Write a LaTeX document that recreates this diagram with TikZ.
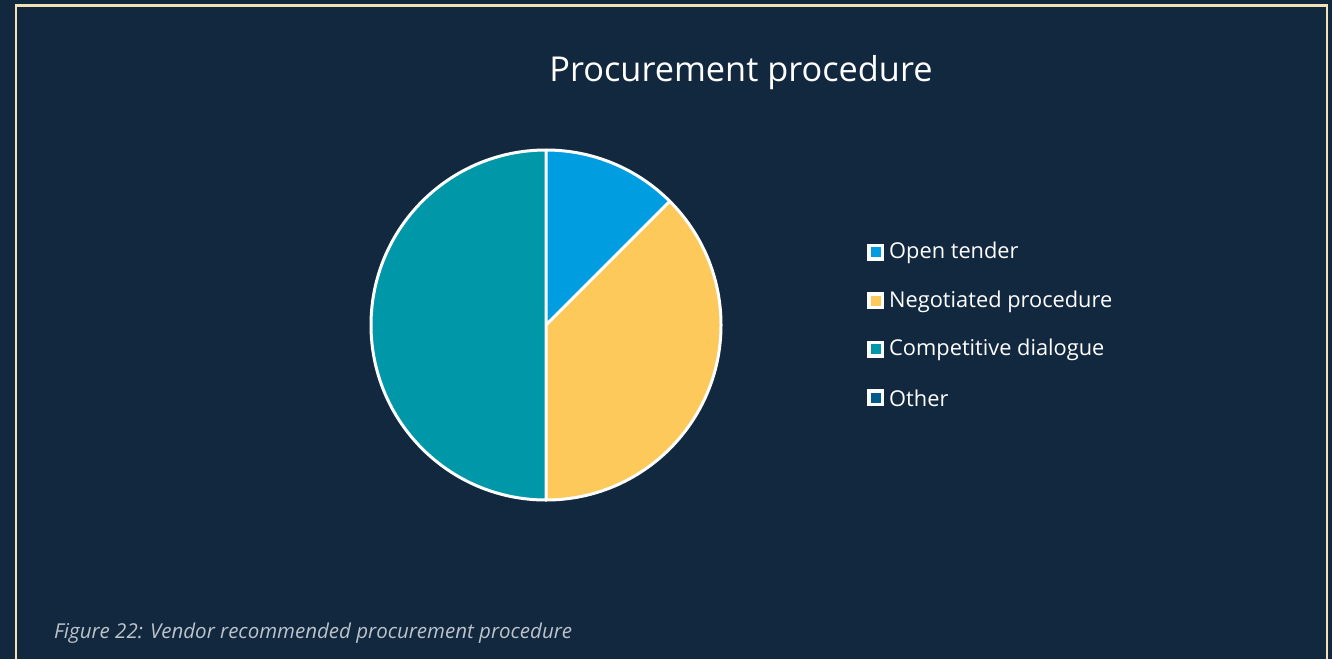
\documentclass[tikz,border=0pt]{standalone}
\usepackage{fontspec}
\setmainfont{Open Sans}
\definecolor{bgc}{HTML}{12283F}
\definecolor{cream}{HTML}{F3E2B3}
\definecolor{otc}{HTML}{009EE0}
\definecolor{negc}{HTML}{FCC95A}
\definecolor{compc}{HTML}{0097A8}
\definecolor{othc}{HTML}{005B8C}
\definecolor{capc}{HTML}{BCC3CB}
\tikzset{
  legbox/.style={draw=white, line width=3.5pt, minimum size=13.5pt, inner sep=0pt},
  legtext/.style={anchor=west, text=white, font=\fontsize{21.8}{26}\selectfont, inner sep=0pt},
  sep/.style={draw=white, line width=3pt}
}
\begin{document}
\begin{tikzpicture}[x=1pt,y=-1pt]
\fill[bgc] (0,0) rectangle (1332,659);
\useasboundingbox (0,0) rectangle (1332,659);
\draw[cream, line width=2.2pt] (16,659) -- (16,5.5) -- (1327,5.5) -- (1327,659);
\node[text=white, font=\fontsize{34.3}{41}\selectfont, inner sep=0pt] (title) at (741,73) {Procurement procedure};
\begin{scope}[shift={(546,325)}, yscale=-1]
\coordinate (c) at (0,0);
\fill[otc] (c) -- (90:175) arc[start angle=90, end angle=45, radius=175] -- cycle;
\fill[negc] (c) -- (45:175) arc[start angle=45, end angle=-90, radius=175] -- cycle;
\fill[compc] (c) -- (-90:175) arc[start angle=270, end angle=90, radius=175] -- cycle;
\coordinate (p1) at (90:175);
\coordinate (p2) at (45:175);
\coordinate (p3) at (-90:175);
\draw[sep] (c) circle[radius=175];
\draw[sep, line cap=round] (c) -- (p1) (c) -- (p2) (c) -- (p3);
\end{scope}
\node[legbox, fill=otc] (k1) at (875.5,252) {};
\node[legbox, fill=negc] (k2) at (875.5,300.5) {};
\node[legbox, fill=compc] (k3) at (875.5,349) {};
\node[legbox, fill=othc] (k4) at (875.5,397.5) {};
\node[legtext] (t1) at (889,253) {Open tender};
\node[legtext] (t2) at (889,301.5) {Negotiated procedure};
\node[legtext] (t3) at (889,350) {Competitive dialogue};
\node[legtext] (t4) at (889,398.5) {Other};
\node[anchor=west, text=capc, font=\fontsize{20.5}{24}\selectfont\itshape, inner sep=0pt] (cap) at (54,633) {Figure 22: Vendor recommended procurement procedure};
\end{tikzpicture}
\end{document}
